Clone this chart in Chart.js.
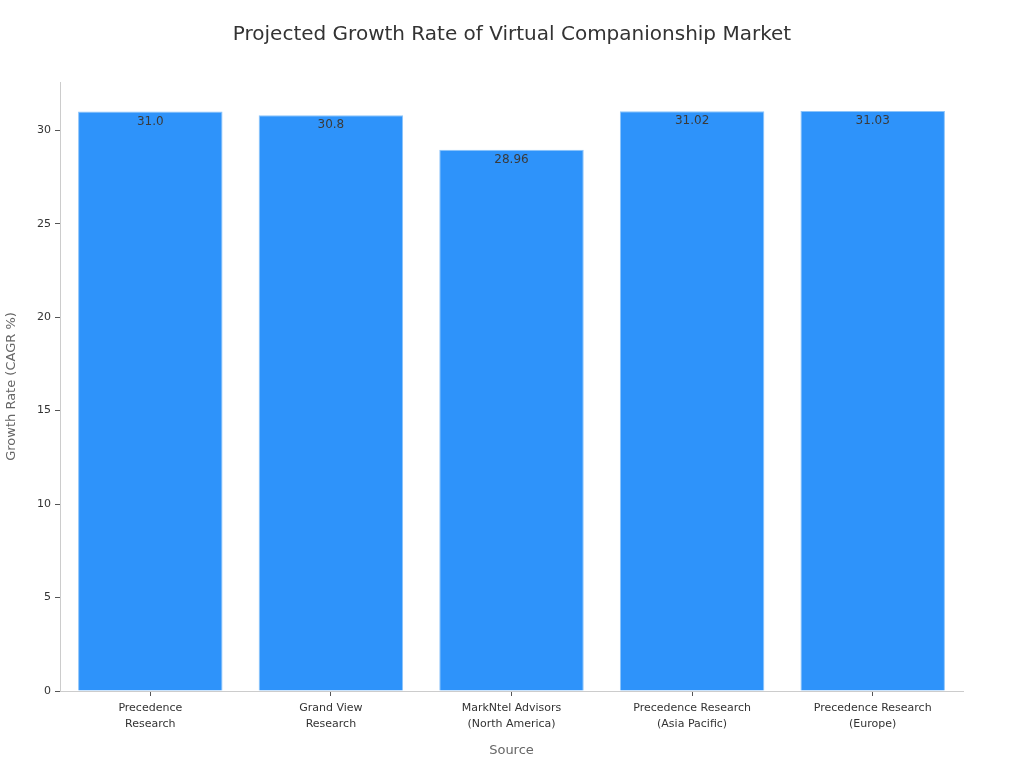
<!DOCTYPE html>
<html>
<head>
<meta charset="utf-8">
<script src="https://cdn.jsdelivr.net/npm/chart.js@4/dist/chart.umd.min.js"></script>
<style>
  html, body { margin: 0; padding: 0; background: #fff; }
  #wrap { width: 1024px; height: 768px; }
</style>
</head>
<body>
<div id="wrap"><canvas id="growthChart" width="1024" height="768"></canvas></div>
<script>
const sources = [
    ["Precedence", "Research"],
    ["Grand View", "Research"],
    ["MarkNtel Advisors", "(North America)"],
    ["Precedence Research", "(Asia Pacific)"],
    ["Precedence Research", "(Europe)"]
];
const cagr = [31.0, 30.8, 28.96, 31.02, 31.03];
const cagrLabels = ["31.0", "30.8", "28.96", "31.02", "31.03"];
const yTicks = [0, 5, 10, 15, 20, 25, 30];

// value text just inside the top of each bar
const barText = {
    id: "barText",
    afterDatasetsDraw(chart) {
        const ctx = chart.ctx;
        const meta = chart.getDatasetMeta(0);
        ctx.save();
        ctx.font = "12px 'DejaVu Sans'";
        ctx.fillStyle = "#3a3a3a";
        ctx.textAlign = "center";
        ctx.textBaseline = "top";
        meta.data.forEach(function (bar, i) {
            ctx.fillText(cagrLabels[i], bar.x, bar.y + 4);
        });
        ctx.restore();
    }
};

new Chart(document.getElementById("growthChart"), {
    type: "bar",
    data: {
        labels: sources,
        datasets: [{
            data: cagr,
            backgroundColor: "#2e93fa",
            borderColor: "#8cc4fa",
            borderWidth: 1,
            barPercentage: 0.8,
            categoryPercentage: 1.0
        }]
    },
    options: {
        responsive: false,
        animation: false,
        layout: { padding: 0 },
        plugins: {
            legend: { display: false },
            tooltip: { enabled: false },
            title: {
                display: true,
                text: "Projected Growth Rate of Virtual Companionship Market",
                color: "#333333",
                font: { family: "'DejaVu Sans'", size: 20, weight: "normal" },
                padding: { top: 23, bottom: 35 }
            }
        },
        scales: {
            x: {
                offset: true,
                grid: {
                    offset: false,
                    drawOnChartArea: false,
                    drawTicks: true,
                    tickLength: 5,
                    color: "#555555"
                },
                border: { color: "#cccccc" },
                ticks: {
                    color: "#333333",
                    padding: 4,
                    maxRotation: 0,
                    font: { family: "'DejaVu Sans'", size: 11, lineHeight: 1.45 }
                },
                title: {
                    display: true,
                    text: "Source",
                    color: "#666666",
                    font: { family: "'DejaVu Sans'", size: 13 },
                    padding: { top: 6, bottom: 10 }
                },
                afterFit(scale) { scale.height = 77; }
            },
            y: {
                min: 0,
                max: 32.58,
                grid: {
                    drawOnChartArea: false,
                    drawTicks: true,
                    tickLength: 5,
                    color: "#555555"
                },
                border: { color: "#cccccc" },
                ticks: {
                    stepSize: 5,
                    color: "#333333",
                    padding: 4,
                    font: { family: "'DejaVu Sans'", size: 11 }
                },
                afterBuildTicks(scale) {
                    scale.ticks = yTicks.map(function (v) { return { value: v }; });
                },
                title: {
                    display: true,
                    text: "Growth Rate (CAGR %)",
                    color: "#666666",
                    font: { family: "'DejaVu Sans'", size: 13 },
                    padding: { top: 4, bottom: 4 }
                },
                afterFit(scale) { scale.width = 60; }
            },
            // empty right-hand spacer so the title stays centred on the page
            spacer: {
                type: "linear",
                position: "right",
                display: true,
                grid: { display: false, drawOnChartArea: false, drawTicks: false },
                border: { display: false },
                ticks: { display: false },
                afterFit(scale) { scale.width = 61; }
            }
        }
    },
    plugins: [barText]
});
</script>
</body>
</html>
